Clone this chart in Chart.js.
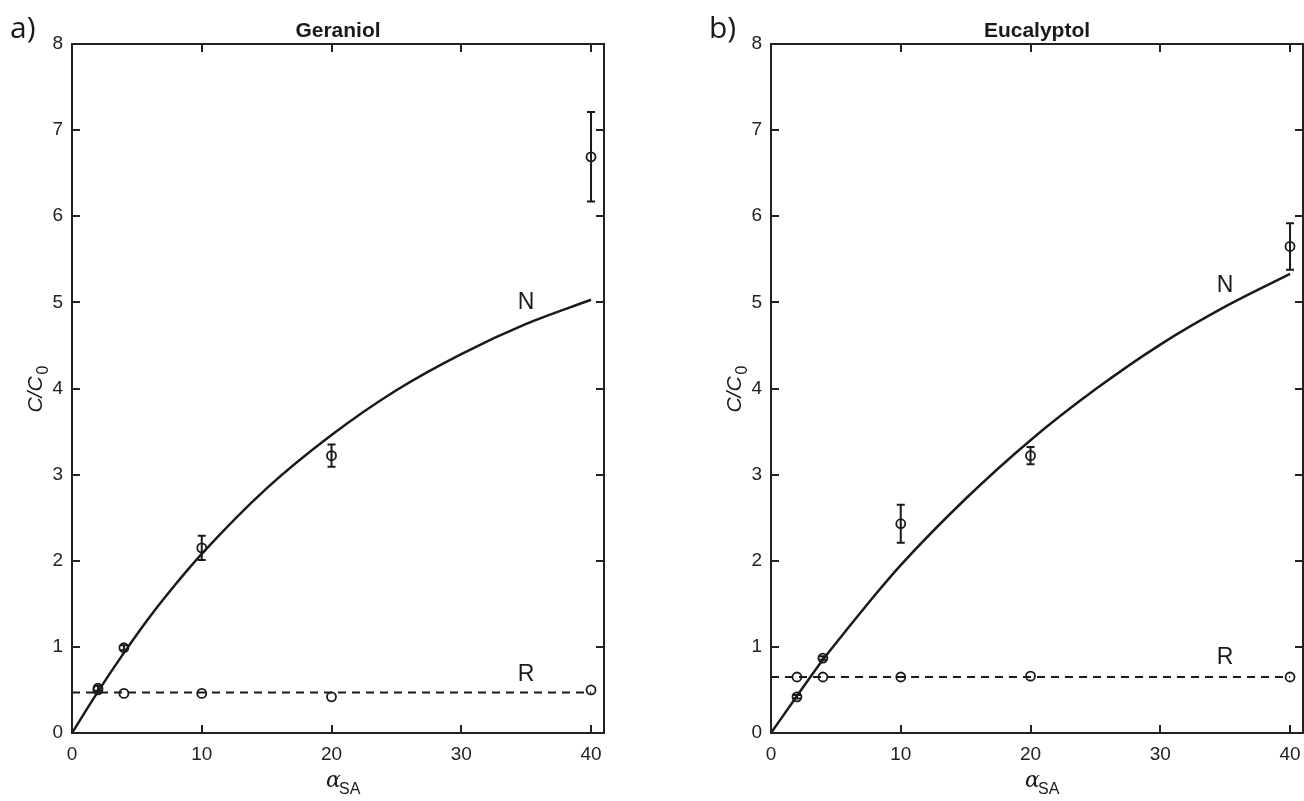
<!DOCTYPE html>
<html>
<head>
<meta charset="utf-8">
<script src="https://cdn.jsdelivr.net/npm/chart.js@4.4.0/dist/chart.umd.min.js"></script>
<style>
  html, body { margin: 0; padding: 0; background: #fff; }
  #wrap { position: relative; width: 1304px; height: 801px; overflow: hidden; }
  canvas { position: absolute; top: 0; }
</style>
</head>
<body>
<div id="wrap">
  <canvas id="panel-a" width="652" height="801" style="left:0"></canvas>
  <canvas id="panel-b" width="652" height="801" style="left:652px"></canvas>
</div>
<script>
// Measured points (alpha_SA)
var xSA = [2, 4, 10, 20, 40];
// Geraniol
var gerN = [0.52, 0.99, 2.15, 3.22, 6.69];
var gerNErr = [0.03, 0.03, 0.14, 0.13, 0.52];
var gerR = [0.50, 0.46, 0.46, 0.42, 0.50];
// Eucalyptol
var eucN = [0.42, 0.87, 2.43, 3.22, 5.65];
var eucNErr = [0.02, 0.02, 0.22, 0.10, 0.27];
var eucR = [0.65, 0.65, 0.65, 0.66, 0.65];
// Model curves (N)
var curveX = [0, 2, 4, 6, 8, 10, 15, 20, 25, 30, 35, 40];
var gerCurve = [0, 0.48, 0.93, 1.35, 1.73, 2.08, 2.84, 3.46, 3.98, 4.40, 4.75, 5.03];
var eucCurve = [0, 0.43, 0.85, 1.23, 1.60, 1.95, 2.72, 3.40, 3.99, 4.51, 4.95, 5.33];
// Dashed R levels
var rLineX = [0, 40];
var gerRLevel = [0.47, 0.47];
var eucRLevel = [0.65, 0.65];
// Axes
var xTicks = [0, 10, 20, 30, 40];
var yTicks = [0, 1, 2, 3, 4, 5, 6, 7, 8];
var titles = ['Geraniol', 'Eucalyptol'];
var panelTags = ['a)', 'b)'];

var INK = '#1a1a1a';
var AXIS_FONT = '"Liberation Sans", Arial, Helvetica, sans-serif';

function pts(xs, ys) { return xs.map(function(x, i) { return { x: x, y: ys[i] }; }); }

var boxPlugin = {
  id: 'box',
  afterDatasetsDraw: function(chart) {
    var c = chart.ctx, a = chart.chartArea, o = chart.options.plugins.box;
    var sx = chart.scales.x, sy = chart.scales.y;
    c.save();
    // error bars
    c.strokeStyle = INK; c.lineWidth = 2;
    o.errX.forEach(function(x, i) {
      var px = sx.getPixelForValue(x);
      var top = sy.getPixelForValue(o.errY[i] + o.err[i]);
      var bot = sy.getPixelForValue(o.errY[i] - o.err[i]);
      c.beginPath();
      c.moveTo(px, top); c.lineTo(px, bot);
      c.moveTo(px - 4, top); c.lineTo(px + 4, top);
      c.moveTo(px - 4, bot); c.lineTo(px + 4, bot);
      c.stroke();
    });
    // box + inward ticks
    c.strokeStyle = '#222'; c.lineWidth = 2;
    c.strokeRect(a.left, a.top, a.right - a.left, a.bottom - a.top);
    c.beginPath();
    xTicks.forEach(function(v) {
      var px = Math.round(sx.getPixelForValue(v));
      c.moveTo(px, a.bottom); c.lineTo(px, a.bottom - 8);
      c.moveTo(px, a.top); c.lineTo(px, a.top + 8);
    });
    yTicks.forEach(function(v) {
      var py = Math.round(sy.getPixelForValue(v));
      c.moveTo(a.left, py); c.lineTo(a.left + 8, py);
      c.moveTo(a.right, py); c.lineTo(a.right - 8, py);
    });
    c.stroke();
    // curve labels
    c.fillStyle = INK; c.textAlign = 'center'; c.textBaseline = 'middle';
    c.font = '23px ' + AXIS_FONT;
    o.marks.forEach(function(m) {
      c.fillText(m.t, sx.getPixelForValue(m.x), sy.getPixelForValue(m.y));
    });
    // title
    c.font = 'bold 21px ' + AXIS_FONT;
    c.textBaseline = 'alphabetic';
    c.fillText(o.title, (a.left + a.right) / 2, 37);
    // panel tag
    c.font = '30px "Open Sans", Lato, sans-serif';
    c.textAlign = 'left';
    c.fillText(o.tag, o.tagX, 38);
    // x axis title: alpha_SA
    c.font = 'italic 22px "DejaVu Serif", serif';
    var cx = (a.left + a.right) / 2 - 6;
    c.fillText('\u03b1', cx - 6, 787);
    c.font = '16px ' + AXIS_FONT;
    c.fillText('SA', cx + 7, 794);
    // y axis title: C/C0
    c.translate(a.left - 30, (a.top + a.bottom) / 2);
    c.rotate(-Math.PI / 2);
    c.font = 'italic 21px ' + AXIS_FONT;
    c.textAlign = 'center';
    c.fillText('C/C', -6, 0);
    c.font = '16px ' + AXIS_FONT;
    c.textAlign = 'left';
    c.fillText('0', 14, 6);
    c.restore();
  }
};

function makePanel(id, idx, curve, nY, nErr, rY, rLevel, yAxisW, padRight, tagX, marks) {
  new Chart(document.getElementById(id), {
    type: 'scatter',
    data: {
      datasets: [
        { data: pts(curveX, curve), showLine: true, borderColor: INK, borderWidth: 2.5, pointRadius: 0, tension: 0.4, cubicInterpolationMode: 'monotone' },
        { data: pts(rLineX, rLevel), showLine: true, borderColor: INK, borderWidth: 2, borderDash: [8, 6], pointRadius: 0 },
        { data: pts(xSA, nY), pointRadius: 4.5, pointBorderWidth: 1.8, pointBorderColor: INK, pointBackgroundColor: 'rgba(0,0,0,0)' },
        { data: pts(xSA, rY), pointRadius: 4.5, pointBorderWidth: 1.8, pointBorderColor: INK, pointBackgroundColor: 'rgba(0,0,0,0)' }
      ]
    },
    options: {
      responsive: false, animation: false, events: [],
      layout: { autoPadding: false, padding: { left: 0, right: padRight, top: 44, bottom: 0 } },
      plugins: {
        legend: { display: false }, tooltip: { enabled: false },
        box: { errX: xSA, errY: nY, err: nErr, title: titles[idx], tag: panelTags[idx], tagX: tagX, marks: marks }
      },
      scales: {
        x: {
          type: 'linear', min: 0, max: 41,
          afterBuildTicks: function(s) { s.ticks = xTicks.map(function(v) { return { value: v }; }); },
          afterFit: function(s) { s.height = 68; s.paddingLeft = 0; s.paddingRight = 0; },
          grid: { display: false, drawTicks: false }, border: { display: false },
          ticks: { color: '#222', font: { family: AXIS_FONT, size: 19 }, padding: 10, maxRotation: 0 }
        },
        y: {
          type: 'linear', min: 0, max: 8,
          afterBuildTicks: function(s) { s.ticks = yTicks.map(function(v) { return { value: v }; }); },
          afterFit: function(s) { s.width = yAxisW; s.paddingTop = 0; s.paddingBottom = 0; },
          grid: { display: false, drawTicks: false }, border: { display: false },
          ticks: { color: '#222', font: { family: AXIS_FONT, size: 19 }, padding: 9 }
        }
      }
    },
    plugins: [boxPlugin]
  });
}

makePanel('panel-a', 0, gerCurve, gerN, gerNErr, gerR, gerRLevel, 72, 48, 10,
  [{ t: 'N', x: 35, y: 5.0 }, { t: 'R', x: 35, y: 0.68 }]);
makePanel('panel-b', 1, eucCurve, eucN, eucNErr, eucR, eucRLevel, 119, 1, 57,
  [{ t: 'N', x: 35, y: 5.19 }, { t: 'R', x: 35, y: 0.88 }]);
</script>
</body>
</html>
